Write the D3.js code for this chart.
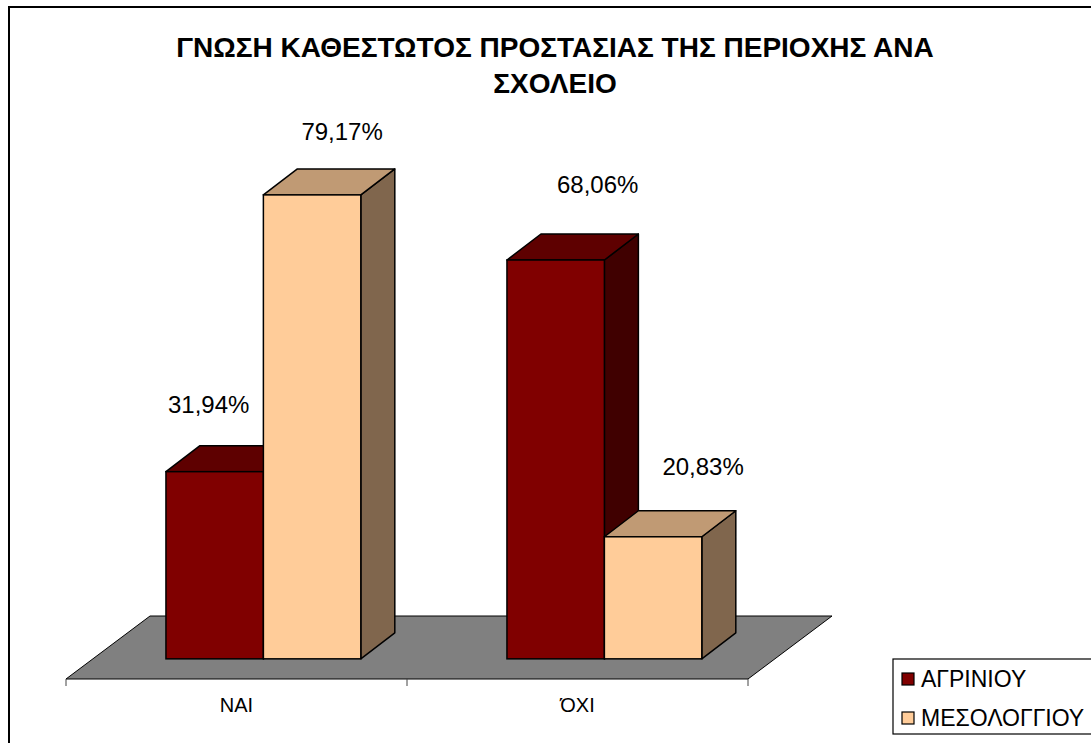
<!DOCTYPE html>
<html>
<head>
<meta charset="utf-8">
<script src="https://cdn.jsdelivr.net/npm/d3@7"></script>
<style>
  html, body { margin: 0; padding: 0; background: #fff; }
  svg { display: block; font-family: "Liberation Sans", Arial, sans-serif; }
</style>
</head>
<body>
<svg id="chart" width="1091" height="743"></svg>
<script>
// ---- data ----
const titleLines = ["ΓΝΩΣΗ ΚΑΘΕΣΤΩΤΟΣ ΠΡΟΣΤΑΣΙΑΣ ΤΗΣ ΠΕΡΙΟΧΗΣ ΑΝΑ", "ΣΧΟΛΕΙΟ"];
const categories = ["ΝΑΙ", "ΌΧΙ"];
const seriesNames = ["ΑΓΡΙΝΙΟΥ", "ΜΕΣΟΛΟΓΓΙΟΥ"];
const agrinioValues = [31.94, 68.06];
const mesolongiValues = [79.17, 20.83];
const valueLabels = [["31,94%", "68,06%"], ["79,17%", "20,83%"]];

// ---- styling / layout ----
const colors = [
  { front: "#800000", top: "#5e0000", side: "#400000" },
  { front: "#FFCC99", top: "#C09A74", side: "#80664D" }
];
const svg = d3.select("#chart");

// border
svg.append("rect").attr("x", 9).attr("y", 7).attr("width", 1100).attr("height", 760)
  .attr("fill", "#fff").attr("stroke", "#000").attr("stroke-width", 2);

// title
svg.append("g").selectAll("text").data(titleLines).join("text")
  .attr("x", 555).attr("y", (d, i) => 57 + i * 36)
  .attr("text-anchor", "middle").attr("font-weight", "bold").attr("font-size", 28)
  .attr("fill", "#000").text(d => d);

// 3D geometry
const floorFrontY = 679;
const floorDepth = [84, -63];
const frontFrac = 0.32;
const barDepth = [34, -26];
const frontOff = [floorDepth[0] * frontFrac, floorDepth[1] * frontFrac];

const x0 = d3.scaleBand().domain(categories).range([66, 748]).padding(0);
const x1 = d3.scaleBand().domain(d3.range(seriesNames.length))
  .range([0, x0.bandwidth()]).paddingInner(0).paddingOuter(0.75);
const baseY = floorFrontY + frontOff[1];
const y = d3.scaleLinear().domain([0, 90]).range([baseY, baseY - 90 * 5.86]);

// floor
const fx0 = x0.range()[0], fx1 = x0.range()[1];
svg.append("path")
  .attr("d", `M${fx0},${floorFrontY} L${fx1},${floorFrontY} L${fx1 + floorDepth[0]},${floorFrontY + floorDepth[1]} L${fx0 + floorDepth[0]},${floorFrontY + floorDepth[1]} Z`)
  .attr("fill", "#808080").attr("stroke", "#000").attr("stroke-width", 1);

// axis ticks
const tickXs = categories.map(c => x0(c)).concat([fx1]);
svg.append("g").selectAll("line").data(tickXs).join("line")
  .attr("x1", d => d).attr("x2", d => d)
  .attr("y1", floorFrontY).attr("y2", floorFrontY + 7)
  .attr("stroke", "#444").attr("stroke-width", 1);

// category labels
svg.append("g").selectAll("text").data(categories).join("text")
  .attr("x", d => x0(d) + x0.bandwidth() / 2).attr("y", 712)
  .attr("text-anchor", "middle").attr("font-size", 20).attr("fill", "#000")
  .text(d => d);

// bars
const seriesValues = [agrinioValues, mesolongiValues];
const bars = [];
categories.forEach((c, ci) => {
  seriesValues.forEach((vals, si) => {
    bars.push({ ci, si, v: vals[ci], label: valueLabels[si][ci] });
  });
});

const gBars = svg.append("g");
const [dx, dy] = barDepth;
bars.forEach(b => {
  const xl = x0(categories[b.ci]) + frontOff[0] + x1(b.si);
  const w = x1.bandwidth();
  const yt = y(b.v), yb = y(0);
  const col = colors[b.si];
  const g = gBars.append("g");
  g.append("path")
    .attr("d", `M${xl + w},${yb} L${xl + w + dx},${yb + dy} L${xl + w + dx},${yt + dy} L${xl + w},${yt} Z`)
    .attr("fill", col.side).attr("stroke", "#000").attr("stroke-width", 1.5).attr("stroke-linejoin", "round");
  g.append("path")
    .attr("d", `M${xl},${yt} L${xl + dx},${yt + dy} L${xl + w + dx},${yt + dy} L${xl + w},${yt} Z`)
    .attr("fill", col.top).attr("stroke", "#000").attr("stroke-width", 1.5).attr("stroke-linejoin", "round");
  g.append("rect")
    .attr("x", xl).attr("y", yt).attr("width", w).attr("height", yb - yt)
    .attr("fill", col.front).attr("stroke", "#000").attr("stroke-width", 1.5);
});

// value labels (manual nudges from the original layout)
const labelNudgeX = [[-40, 8], [-4, 16]];
const labelLift = [[33, 41], [29, 36]];
svg.append("g").selectAll("text").data(bars).join("text")
  .attr("x", b => x0(categories[b.ci]) + frontOff[0] + x1(b.si) + x1.bandwidth() / 2 + dx + labelNudgeX[b.si][b.ci])
  .attr("y", b => y(b.v) + dy - labelLift[b.si][b.ci])
  .attr("text-anchor", "middle").attr("font-size", 24).attr("fill", "#000")
  .text(b => b.label);

// legend
const lg = svg.append("g");
lg.append("rect").attr("x", 893).attr("y", 659).attr("width", 220).attr("height", 75)
  .attr("fill", "#fff").attr("stroke", "#000").attr("stroke-width", 1.2);
const items = lg.selectAll("g.item").data(seriesNames).join("g").attr("class", "item")
  .attr("transform", (d, i) => `translate(0, ${i * 39})`);
items.append("rect").attr("x", 902).attr("y", 673).attr("width", 12).attr("height", 12)
  .attr("fill", (d, i) => colors[i].front).attr("stroke", "#000").attr("stroke-width", 1.2);
items.append("text").attr("x", 921).attr("y", 687).attr("font-size", 23).attr("fill", "#000")
  .text(d => d);
</script>
</body>
</html>
